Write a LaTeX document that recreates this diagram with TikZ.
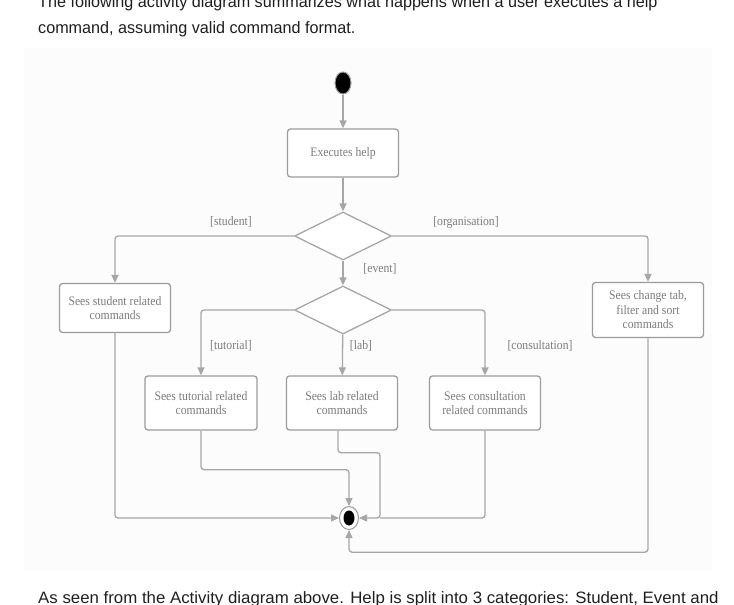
\documentclass[tikz,border=0pt]{standalone}
\usepackage{fontspec}
\setmainfont{Liberation Serif}
\newfontfamily\prosefont[FakeStretch=0.98]{Liberation Sans}
\newfontfamily\widefont[FakeStretch=1.02]{Liberation Sans}
\newfontfamily\diagfont[FakeStretch=0.9]{Liberation Serif}
\usetikzlibrary{shapes.geometric,arrows.meta}
\definecolor{linegrey}{HTML}{A6A6A6}
\definecolor{boxgrey}{HTML}{9C9C9C}
\definecolor{textgrey}{HTML}{7C7C7C}
\definecolor{panelgrey}{HTML}{FCFCFC}
\definecolor{prose}{HTML}{1E1E1E}

\begin{document}
\begin{tikzpicture}[x=1pt,y=-1pt,
   activity/.style={draw=boxgrey,line width=1.3pt,rounded corners=3pt,fill=white,
      minimum width=111pt,minimum height=54pt,align=center,text=textgrey,
      font=\diagfont\fontsize{13}{14.5}\selectfont},
   choice/.style={diamond,draw=linegrey,line width=1.3pt,fill=white,inner sep=0pt,
      minimum width=97pt,minimum height=48pt},
   guard/.style={text=textgrey,font=\diagfont\fontsize{13}{14.5}\selectfont},
   flow/.style={draw=linegrey,line width=1.3pt,rounded corners=3pt,
      -{Triangle[width=7pt,length=8pt]}},
   merge/.style={draw=linegrey,line width=1.3pt,rounded corners=3pt},
   prosetext/.style={anchor=base west,inner sep=0pt,text=prose,
      font=\prosefont\fontsize{16.5}{20}\selectfont}]

   \useasboundingbox (0,0) rectangle (734,605);
   \fill[panelgrey] (24,48) rectangle (712,570);

   \node[prosetext] (intro1) at (38,8)
      {The following activity diagram summarizes what happens when a user executes a help};
   \node[prosetext] (intro2) at (38,33)
      {command, assuming valid command format.};
   \node[prosetext,font=\widefont\fontsize{16.5}{20}\selectfont] (outro) at (38,603)
      {As seen from the Activity diagram above. Help is split into 3 categories: Student, Event and};

   % start, first action and the two choices
   \node[ellipse,draw=boxgrey,line width=1pt,fill=black,inner sep=0pt,
      minimum width=16pt,minimum height=22pt] (start) at (343,83) {};
   \node[activity,minimum height=48pt] (exec) at (343,153) {Executes help};
   \node[choice] (kind) at (343,236) {};
   \node[choice] (event) at (343,310) {};

   % actions
   \node[activity,minimum height=49pt] (student) at (115,308)
      {Sees student related\\commands};
   \node[activity,minimum height=55pt] (organ) at (648,310)
      {Sees change tab,\\filter and sort\\commands};
   \node[activity,minimum width=112pt] (tutorial) at (201,403)
      {Sees tutorial related\\commands};
   \node[activity] (lab) at (342,403) {Sees lab related\\commands};
   \node[activity] (consult) at (485,403)
      {Sees consultation\\related commands};

   % final node
   \node[ellipse,draw=boxgrey,line width=1pt,fill=white,inner sep=0pt,
      minimum width=19pt,minimum height=23pt] (final) at (349,518) {};
   \fill[black] (final) ellipse (5.5pt and 7.5pt);
   \coordinate (join) at (380,518);

   % guards
   \node[guard] (gstudent) at (231,222) {[student]};
   \node[guard] (gorgan) at (466,222) {[organisation]};
   \node[guard] (gevent) at (380,269) {[event]};
   \node[guard] (gtutorial) at (231,346) {[tutorial]};
   \node[guard] (glab) at (361,346) {[lab]};
   \node[guard] (gconsult) at (540,346) {[consultation]};

   % flows
   \draw[flow] (start) -- (exec);
   \draw[flow] (exec) -- (kind);
   \draw[flow] (kind.west) -| (student.north);
   \draw[flow] (kind.east) -| (organ.north);
   \draw[flow] (kind) -- (event);
   \draw[flow] (event.west) -| (tutorial.north);
   \draw[flow] (event) -- (lab);
   \draw[flow] (event.east) -| (consult.north);

   \draw[flow] (student.south) |- (final.west);
   \draw[flow] (tutorial.south) -- ++(0,39) -| (final.north);
   \draw[flow] ([xshift=-4pt]lab.south) -- ++(0,22) -| (join) -- (final.east);
   \draw[merge] (consult.south) |- (join);
   \draw[flow] (organ.south) -- ++(0,214) -| (final.south);

 \end{tikzpicture}
\end{document}
